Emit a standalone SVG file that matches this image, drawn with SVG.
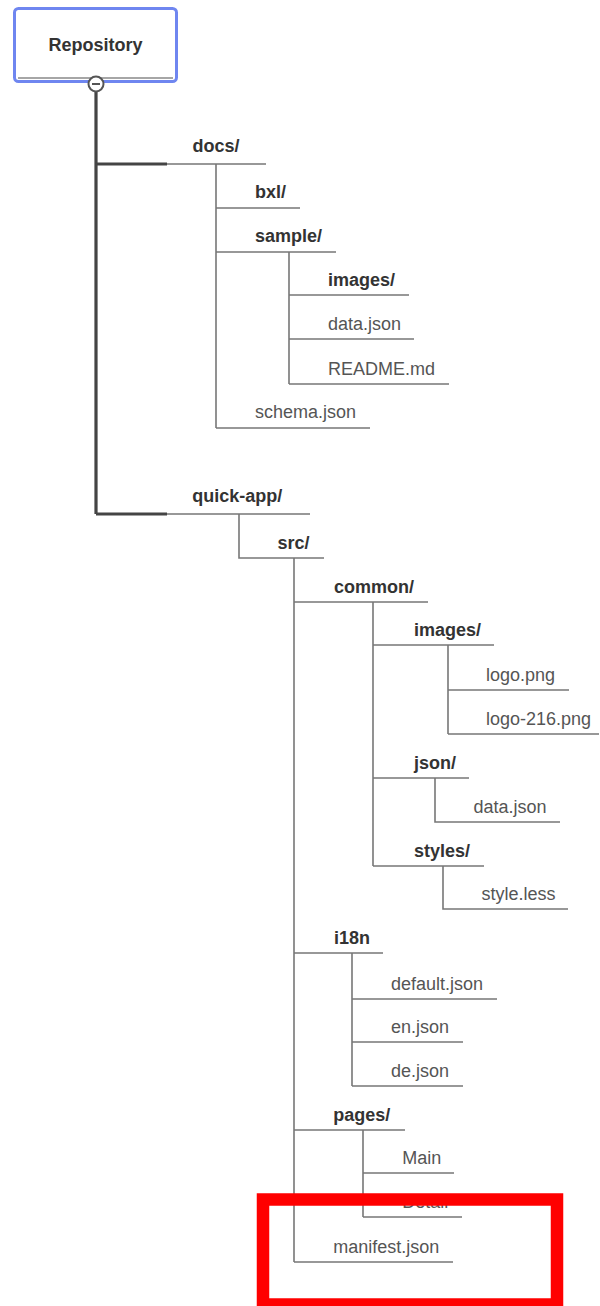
<svg xmlns="http://www.w3.org/2000/svg" width="600" height="1306" viewBox="0 0 600 1306">
<style>
.b{font-family:"Liberation Sans",Arial,sans-serif;font-size:18px;font-weight:bold;fill:#333}
.r{font-family:"Liberation Sans",Arial,sans-serif;font-size:18px;fill:#555}
.ln{stroke:#777;stroke-width:1.6;fill:none}
.tk{stroke:#444;stroke-width:3.2;fill:none}
</style>
<rect width="600" height="1306" fill="#fff"/>
<g id="connectors">
<path class="tk" d="M96,91 V514 M96,164 H167 M96,514 H167"/>
<path class="ln" d="M167,164 H266 M216,164 V428 M216,208 H300 M216,252 H336 M289,252 V384 M289,295 H409 M289,339 H414 M289,384 H449 M216,428 H370"/>
<path class="ln" d="M167,514 H310 M239,514 V558 H324 M294,558 V1262 M294,602 H428 M373,602 V866 M373,645 H494 M448,645 V734 M448,690 H569 M448,734 H599 M373,778 H469 M435,778 V822 H560 M373,866 H484 M443,866 V909 H568 M294,953 H383 M352,953 V1086 M352,999 H497 M352,1042 H463 M352,1086 H463 M294,1130 H405 M363,1130 V1217 M363,1173 H454 M363,1217 H462 M294,1262 H453"/>
</g>
<g id="repository">
<rect x="14.5" y="8.5" width="162" height="73" rx="4" fill="#fff" stroke="#6f86f0" stroke-width="3"/>
<line x1="18" y1="78" x2="173" y2="78" stroke="#888" stroke-width="1.6"/>
<text class="b" x="95.5" y="51" text-anchor="middle">Repository</text>
<circle cx="96" cy="84" r="7.5" fill="#fff" stroke="#555" stroke-width="2"/>
<line x1="92" y1="84" x2="100" y2="84" stroke="#555" stroke-width="2"/>
</g>
<g id="docs"><text class="b" x="192.5" y="152">docs/</text></g>
<g id="bxl"><text class="b" x="255" y="198">bxl/</text></g>
<g id="sample"><text class="b" x="255" y="242">sample/</text></g>
<g id="images1"><text class="b" x="328" y="285.5">images/</text></g>
<g id="data1"><text class="r" x="328" y="330">data.json</text></g>
<g id="readme"><text class="r" x="328" y="375">README.md</text></g>
<g id="schema"><text class="r" x="255" y="418">schema.json</text></g>
<g id="quickapp"><text class="b" x="192.3" y="502">quick-app/</text></g>
<g id="src"><text class="b" x="277.5" y="548.5">src/</text></g>
<g id="common"><text class="b" x="334" y="592.5">common/</text></g>
<g id="images2"><text class="b" x="414" y="635.5">images/</text></g>
<g id="logo"><text class="r" x="486" y="681">logo.png</text></g>
<g id="logo216"><text class="r" x="486" y="725">logo-216.png</text></g>
<g id="json"><text class="b" x="414" y="768.5">json/</text></g>
<g id="data2"><text class="r" x="473.5" y="813">data.json</text></g>
<g id="styles"><text class="b" x="414" y="856.5">styles/</text></g>
<g id="styleless"><text class="r" x="481.5" y="900">style.less</text></g>
<g id="i18n"><text class="b" x="334" y="943.5">i18n</text></g>
<g id="default"><text class="r" x="391" y="990">default.json</text></g>
<g id="en"><text class="r" x="391" y="1033">en.json</text></g>
<g id="de"><text class="r" x="391" y="1077">de.json</text></g>
<g id="pages"><text class="b" x="333.3" y="1120.5">pages/</text></g>
<g id="main"><text class="r" x="402.3" y="1164">Main</text></g>
<g id="detail"><text class="r" x="402.3" y="1208">Detail</text></g>
<g id="manifest"><text class="r" x="333.3" y="1253">manifest.json</text></g>
<rect x="263" y="1199.5" width="294" height="105" fill="none" stroke="#ff0000" stroke-width="12.5"/>
</svg>
